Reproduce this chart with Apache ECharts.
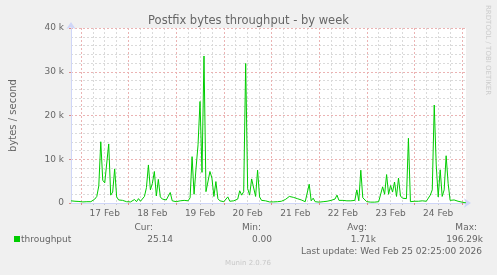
<!DOCTYPE html>
<html>
<head>
<meta charset="utf-8">
<script src="https://cdn.jsdelivr.net/npm/echarts@6/dist/echarts.min.js"></script>
<style>
html,body{margin:0;padding:0;background:#f0f0f0;}
#chart{width:497px;height:275px;}
</style>
</head>
<body>
<div id="chart"></div>
<script>
// Hourly samples starting 16 Feb 2026 19:00 (bytes / second)
const startUTC = Date.UTC(2026, 1, 16, 19, 0, 0);
const throughput = [
  500, 700, 400, 300, 350,
  // 17 Feb
  300, 250, 300, 300, 250, 300, 600, 900,
  1500, 3900, 14000, 5200, 4600, 5000, 13500, 1800, 2500, 7800, 1400, 700, 1100, 600, 500, 300,
  // 18 Feb
  300, 250, 400, 800, 300, 1000, 400, 500, 1500, 3500, 8700, 3000, 4500, 7200, 1600, 5400, 1400, 900, 500, 700, 400, 2400, 500, 400,
  // 19 Feb
  300, 250, 500, 300, 600, 300, 500, 1200, 10600, 2000, 8000, 13300, 23200, 7000, 33600, 2600, 2500, 7200, 5700, 1500, 4900, 1000, 500, 400,
  // 20 Feb
  300, 400, 1400, 400, 300, 500, 400, 900, 2800, 1800, 2600, 31900, 3300, 1800, 5500, 5300, 1500, 7500, 1400, 600, 400, 500, 300, 250,
  // 21 Feb
  300, 250, 300, 300, 250, 400, 500, 800, 1200, 1500, 1200, 1300, 900, 1000, 800, 700, 600, 300, 400, 4300, 500, 1100, 300, 200,
  // 22 Feb
  200, 200, 300, 600, 400, 700, 600, 700, 900, 1800, 600, 800, 600, 700, 500, 800, 500, 700, 600, 3000, 500, 7500, 1200, 900,
  // 23 Feb
  300, 200, 200, 150, 200, 200, 300, 600, 3700, 2000, 6500, 2000, 4000, 2500, 4800, 1500, 5700, 1600, 1100, 1200, 1000, 14800, 300, 300,
  // 24 Feb
  400, 300, 400, 300, 500, 300, 400, 800, 1800, 3000, 22400, 8700, 1400, 7600, 1500, 3000, 10800, 4500, 600, 800, 700, 500, 400, 300,
  // 25 Feb
  200, 150, 25
];
const dayLabels = ['17 Feb', '18 Feb', '19 Feb', '20 Feb', '21 Feb', '22 Feb', '23 Feb', '24 Feb'];
const yTickLabels = {0: '0', 10000: '10 k', 20000: '20 k', 30000: '30 k', 40000: '40 k'};
const legendNames = ['Cur:', 'Min:', 'Avg:', 'Max:'];
const legendValues = ['25.14', '0.00', '1.71k', '196.29k'];
const seriesName = 'throughput';
const titleText = 'Postfix bytes throughput - by week';
const lastUpdate = 'Last update: Wed Feb 25 02:25:00 2026';

const pad = n => (n < 10 ? '0' : '') + n;
const hours = throughput.map((_, i) => {
  const d = new Date(startUTC + i * 3600000);
  return (d.getUTCMonth() + 1) + '-' + pad(d.getUTCDate()) + ' ' + pad(d.getUTCHours()) + ':00';
});
const isMidnight = i => i % 24 === 5;
const isMinor = i => i % 6 === 5 && !isMidnight(i);
const isNoon = i => i % 24 === 17;

const FONT = 'DejaVu Sans';
const TXT = '#666666';
const minorCol = '#dadada';
const majorCol = '#ebb3b3';

const chart = echarts.init(document.getElementById('chart'), null, {renderer: 'canvas'});
const colNameX = [153, 261, 367, 477];
const colValX = [173, 272, 376, 483];
const graphics = [
  {type: 'text', x: 248.5, y: 21, style: {text: titleText, fill: TXT, font: '11.5px "' + FONT + '"', textAlign: 'center', textVerticalAlign: 'middle'}},
  {type: 'text', x: 488, y: 5, rotation: -Math.PI / 2, style: {text: 'RRDTOOL / TOBI OETIKER', fill: '#cccccc', font: '7px "' + FONT + '"', textAlign: 'left', textVerticalAlign: 'middle'}},
  {type: 'rect', shape: {x: 14, y: 236, width: 6, height: 6}, style: {fill: '#00cc00'}},
  {type: 'text', x: 21, y: 239.5, style: {text: seriesName, fill: TXT, font: '9px "' + FONT + '"', textAlign: 'left', textVerticalAlign: 'middle'}},
  {type: 'text', x: 482, y: 251.5, style: {text: lastUpdate, fill: TXT, font: '9px "' + FONT + '"', textAlign: 'right', textVerticalAlign: 'middle'}},
  {type: 'text', x: 248, y: 263.5, style: {text: 'Munin 2.0.76', fill: '#c8c8c8', font: '7px "' + FONT + '"', textAlign: 'center', textVerticalAlign: 'middle'}}
];
legendNames.forEach((n, i) => {
  graphics.push({type: 'text', x: colNameX[i], y: 227.5, style: {text: n, fill: TXT, font: '9px "' + FONT + '"', textAlign: 'right', textVerticalAlign: 'middle'}});
  graphics.push({type: 'text', x: colValX[i], y: 239.5, style: {text: legendValues[i], fill: TXT, font: '9px "' + FONT + '"', textAlign: 'right', textVerticalAlign: 'middle'}});
});

const option = {
  animation: false,
  backgroundColor: '#f0f0f0',
  textStyle: {fontFamily: FONT},
  grid: {left: 68, right: 31, top: 28, bottom: 72, show: true, backgroundColor: '#ffffff', borderWidth: 0},
  xAxis: [
    {
      type: 'category', data: hours, boundaryGap: false, position: 'bottom', z: 1,
      axisLine: {show: false},
      axisTick: {show: true, interval: isMinor, length: 2, lineStyle: {color: '#c8c8c8'}},
      axisLabel: {show: false},
      splitLine: {show: true, interval: isMinor, lineStyle: {color: minorCol, type: [2, 2], width: 1}}
    },
    {
      type: 'category', data: hours, boundaryGap: false, position: 'bottom', z: 2,
      axisLine: {show: true, lineStyle: {color: '#CFD6F8', width: 1}, symbol: ['none', 'arrow'], symbolSize: [7, 7], symbolOffset: [0, 5]},
      axisTick: {show: true, interval: isMidnight, length: 2, lineStyle: {color: '#e08a8a'}},
      axisLabel: {show: true, interval: isNoon, color: TXT, fontSize: 9, fontFamily: FONT, margin: 6,
        formatter: (v, i) => dayLabels[Math.round((i - 17) / 24)] || ''},
      splitLine: {show: true, interval: isMidnight, lineStyle: {color: majorCol, type: [2, 2], width: 1}}
    }
  ],
  yAxis: [
    {
      type: 'value', min: 0, max: 40000, interval: 2000, position: 'left', z: 1,
      axisLine: {show: false}, axisTick: {show: false}, axisLabel: {show: false},
      splitLine: {show: true, lineStyle: {color: minorCol, type: [2, 2], width: 1}}
    },
    {
      type: 'value', min: 0, max: 40000, interval: 10000, position: 'left', z: 2,
      axisLine: {show: true, lineStyle: {color: '#CFD6F8', width: 1}, symbol: ['none', 'arrow'], symbolSize: [7, 7], symbolOffset: [0, 6]},
      axisTick: {show: true, length: 2, lineStyle: {color: '#e08a8a'}},
      axisLabel: {color: TXT, fontSize: 9, fontFamily: FONT, margin: 7, formatter: v => yTickLabels[v] !== undefined ? yTickLabels[v] : ''},
      splitLine: {show: true, lineStyle: {color: majorCol, type: [2, 2], width: 1}},
      name: 'bytes / second', nameLocation: 'middle', nameGap: 53, nameRotate: 90,
      nameTextStyle: {color: TXT, fontSize: 10, fontFamily: FONT}
    }
  ],
  series: [{
    name: seriesName, type: 'line', xAxisIndex: 1, yAxisIndex: 1, data: throughput,
    symbol: 'none', showSymbol: false, silent: true, z: 5,
    lineStyle: {color: '#00cc00', width: 1}, itemStyle: {color: '#00cc00'}
  }],
  graphic: graphics
};
chart.setOption(option);
</script>
</body>
</html>
